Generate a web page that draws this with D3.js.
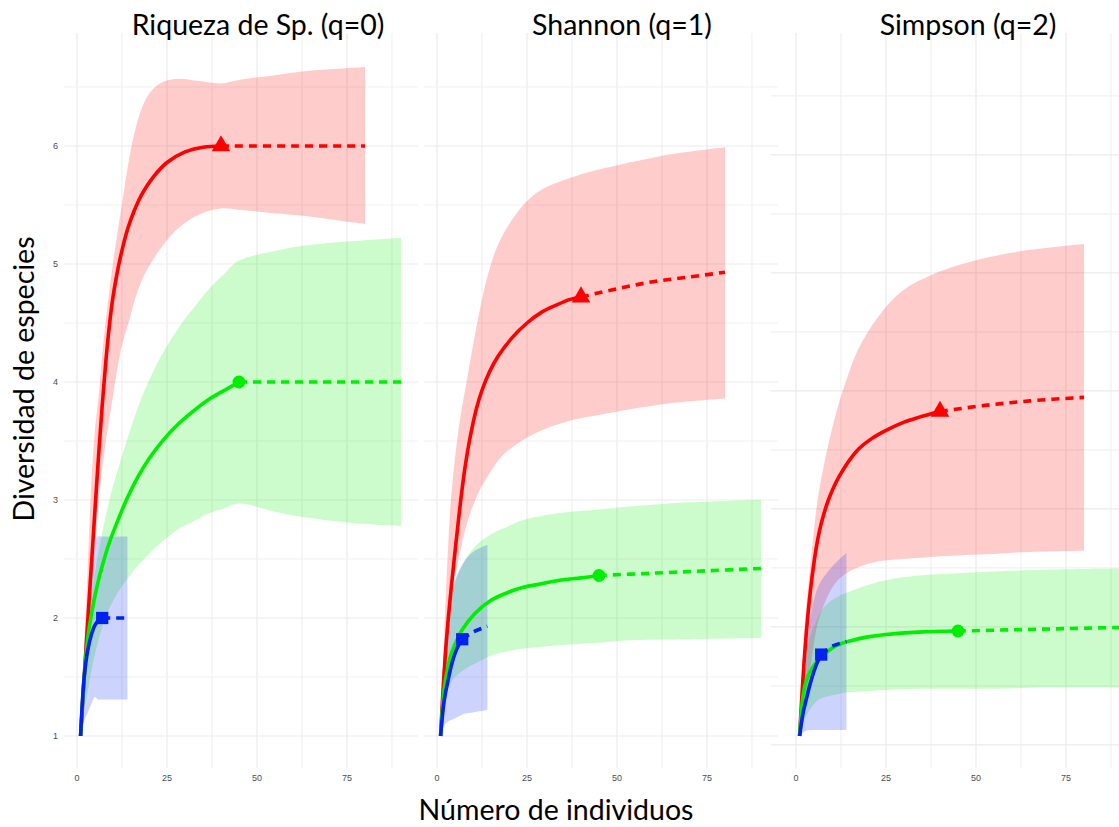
<!DOCTYPE html>
<html>
<head>
<meta charset="utf-8">
<script src="https://cdn.jsdelivr.net/npm/d3@7"></script>
<style>
  body { margin: 0; background: #fff; }
  svg { display: block; }
</style>
</head>
<body>
<div id="chart"></div>
<script>

// panel titles and ticks
const panelTitles = ['Riqueza de Sp. (q=0)', 'Shannon (q=1)', 'Simpson (q=2)'];
const xTicks = [0, 25, 50, 75];
const yTicks = [1, 2, 3, 4, 5, 6];
const gridX = [0, 12.5, 25, 37.5, 50, 62.5, 75, 87.5];
const gridY = [1, 1.5, 2, 2.5, 3, 3.5, 4, 4.5, 5, 5.5, 6, 6.5];
const gridYSimpson = [0.924, 1.424, 1.924, 2.424, 2.924, 3.424, 3.924, 4.424, 4.924, 5.424, 5.924, 6.424];

// q=0  [n, estimate] / [n, lower, upper]
const q0RedEst = [[1,1],[2,1.5],[3,1.98],[4,2.45],[5,2.92],[6,3.38],[7,3.8],[8,4.17],[9,4.48],[10,4.72],[11,4.9],[12,5.05],[14,5.29],[16,5.46],[18,5.59],[21,5.73],[25,5.86],[30,5.95],[35,5.99],[40,6.0]];
const q0RedExt = [[40,6],[60,6],[80,6]];
const q0RedBand = [[1,1,1],[2,1.4,1.75],[3,1.8,2.45],[4,2.2,3.15],[5,2.6,3.6],[5.9,2.95,3.85],[7.8,3.45,4.47],[10.1,3.9,5.03],[12.4,4.3,5.49],[14.3,4.5,5.86],[16.1,4.7,6.13],[18,4.86,6.32],[20,4.98,6.44],[23,5.12,6.53],[28,5.3,6.57],[34,5.42,6.55],[40,5.47,6.53],[45,5.46,6.56],[55,5.43,6.6],[62,5.41,6.63],[70,5.38,6.65],[80,5.34,6.67]];
const q0GreenEst = [[1,1],[2,1.5],[3,1.83],[4,2.03],[5.5,2.26],[7,2.44],[9,2.64],[11,2.8],[14,3.02],[17,3.2],[20,3.35],[24,3.51],[28,3.64],[33,3.77],[37,3.86],[41,3.93],[45,4.0]];
const q0GreenExt = [[45,4],[90,4]];
const q0GreenBand = [[1,1,1],[2,1.22,1.6],[3,1.38,1.95],[4,1.55,2.2],[5.5,1.76,2.48],[7,1.92,2.72],[9,2.08,3.0],[11,2.2,3.22],[14,2.33,3.52],[18,2.48,3.87],[23,2.63,4.2],[28,2.75,4.45],[33,2.83,4.65],[37,2.89,4.8],[41,2.93,4.92],[45,2.97,5.03],[55,2.9,5.11],[62,2.86,5.15],[75,2.81,5.19],[90,2.78,5.22]];
const q0BlueEst = [[1,1],[2,1.5],[3,1.73],[4,1.86],[5,1.94],[6,1.98],[7,2.0]];
const q0BlueExt = [[7,2],[14,2]];
const q0BlueBand = [[1,1,1],[2,1.13,1.75],[3,1.2,2.1],[4,1.27,2.4],[5,1.33,2.6],[5.8,1.31,2.69],[7,1.31,2.69],[10,1.31,2.69],[14,1.31,2.69]];

// q=1
const q1RedEst = [[1,1],[2,1.55],[3,1.95],[4,2.27],[5,2.56],[6,2.84],[7,3.1],[8,3.32],[9,3.5],[10,3.65],[11,3.78],[12.5,3.93],[14.5,4.08],[17,4.22],[21,4.38],[25,4.5],[29,4.59],[33,4.65],[37,4.7],[40,4.72]];
const q1RedExt = [[40,4.72],[50,4.79],[60,4.85],[70,4.89],[80,4.93]];
const q1RedBand = [[1,1,1],[2,1.5,1.85],[3,1.9,2.55],[4,2.2,3.05],[6,2.5,3.6],[8.5,2.82,4.05],[11.5,3.06,4.55],[14.5,3.22,4.95],[18,3.37,5.23],[24,3.51,5.5],[29,3.59,5.63],[38,3.68,5.74],[45,3.72,5.8],[52,3.76,5.85],[65,3.82,5.93],[80,3.86,5.99]];
const q1GreenEst = [[1,1],[2,1.4],[3,1.58],[4,1.7],[5.5,1.81],[7,1.9],[10.6,2.04],[15,2.15],[20,2.22],[24,2.26],[29,2.29],[34,2.32],[40,2.34],[45,2.36]];
const q1GreenExt = [[45,2.36],[60,2.38],[75,2.4],[90,2.42]];
const q1GreenBand = [[1,1,1],[2,1.25,1.7],[3,1.4,2.0],[5,1.5,2.3],[8,1.57,2.5],[11,1.62,2.62],[15,1.68,2.71],[20,1.72,2.78],[24,1.74,2.83],[34,1.77,2.89],[45,1.79,2.92],[52,1.81,2.94],[70,1.82,2.98],[90,1.83,3.0]];
const q1BlueEst = [[1,1],[2,1.3],[3,1.46],[4,1.6],[5,1.7],[6,1.77],[7,1.82]];
const q1BlueExt = [[7,1.82],[10,1.88],[14,1.93]];
const q1BlueBand = [[1,1,1],[2,1.09,1.75],[3,1.12,2.02],[5,1.15,2.32],[7.8,1.19,2.49],[10,1.2,2.56],[14,1.22,2.62]];

// q=2
const q2RedEst = [[1,1],[2,1.52],[3,1.92],[4,2.23],[5,2.47],[6,2.66],[7,2.8],[9,3.0],[12,3.2],[17,3.42],[21,3.52],[25,3.59],[30,3.66],[34,3.7],[40,3.75]];
const q2RedExt = [[40,3.75],[52,3.8],[65,3.84],[80,3.87]];
const q2RedBand = [[1,1,1],[2,1.15,1.7],[2.5,1.25,1.98],[3.5,1.45,2.3],[4.8,1.75,2.69],[6,1.95,3.0],[8,2.13,3.33],[10.8,2.29,3.7],[13.6,2.37,3.98],[17.3,2.43,4.28],[23,2.48,4.56],[29.4,2.5,4.77],[38.6,2.52,4.92],[52.5,2.54,5.05],[65,2.56,5.12],[80,2.57,5.17]];
const q2GreenEst = [[1,1],[2,1.35],[3,1.48],[5,1.6],[7.1,1.67],[10.8,1.76],[15.5,1.81],[20,1.84],[25,1.86],[34,1.88],[45,1.89]];
const q2GreenExt = [[45,1.89],[60,1.9],[75,1.91],[90,1.92]];
const q2GreenBand = [[1,1,1],[2,1.1,1.55],[3,1.18,1.75],[6,1.3,2.0],[8,1.33,2.1],[11,1.35,2.17],[14.5,1.37,2.22],[20,1.38,2.28],[25,1.39,2.32],[34,1.4,2.36],[45,1.4,2.38],[52,1.4,2.39],[70,1.41,2.41],[90,1.41,2.42]];
const q2BlueEst = [[1,1],[2,1.2],[3,1.33],[4,1.45],[5,1.55],[6,1.63],[7,1.69]];
const q2BlueExt = [[7,1.69],[10,1.76],[14,1.8]];
const q2BlueBand = [[1,1,1],[2,1.03,1.4],[2.5,1.04,1.56],[3.9,1.05,1.98],[6.2,1.05,2.27],[9.9,1.05,2.43],[14,1.05,2.55]];

const colours = ['#ff0000', '#00ee00', '#0022ee'];
const shapes = [d3.symbolTriangle, d3.symbolCircle, d3.symbolSquare];
const shapeSizes = [150, 130, 150];

const panels = [
    { title: panelTitles[0], gridY: gridY, showY: true,
      est: [q0RedEst, q0GreenEst, q0BlueEst], ext: [q0RedExt, q0GreenExt, q0BlueExt], band: [q0RedBand, q0GreenBand, q0BlueBand] },
    { title: panelTitles[1], gridY: gridY, showY: false,
      est: [q1RedEst, q1GreenEst, q1BlueEst], ext: [q1RedExt, q1GreenExt, q1BlueExt], band: [q1RedBand, q1GreenBand, q1BlueBand] },
    { title: panelTitles[2], gridY: gridYSimpson, showY: false,
      est: [q2RedEst, q2GreenEst, q2BlueEst], ext: [q2RedExt, q2GreenExt, q2BlueExt], band: [q2RedBand, q2GreenBand, q2BlueBand] }
];

// pixel layout of the three pasted plots
const W = 1119, H = 827;
const zeroX = [77, 437, 796];       // where n = 0 sits in each panel
const gridLeft = [64, 424, 771];
const gridRight = [418, 778, 1125];
const gridTop = 33, gridBottom = 768;
const titleX = [258, 622, 968];

const svg = d3.select('#chart')
    .append('svg')
    .attr('width', W)
    .attr('height', H)
    .style('font-family', 'Lato, sans-serif');

const y = d3.scaleLinear().domain([1, 6]).range([736, 146]);
const smooth = d3.curveCatmullRom.alpha(0.5);

panels.forEach((p, i) => {
    const x = d3.scaleLinear().domain([0, 100]).range([zeroX[i], zeroX[i] + 360]);
    const g = svg.append('g');

    // grid
    g.selectAll('.gx')
        .data(gridX)
        .enter()
        .append('line')
        .attr('x1', d => x(d)).attr('x2', d => x(d))
        .attr('y1', gridTop).attr('y2', gridBottom)
        .style('stroke', d => d % 25 === 0 ? '#ebebeb' : '#f1f1f1')
        .style('stroke-width', 1.2);
    g.selectAll('.gy')
        .data(p.gridY)
        .enter()
        .append('line')
        .attr('x1', gridLeft[i]).attr('x2', gridRight[i])
        .attr('y1', d => y(d)).attr('y2', d => y(d))
        .style('stroke', (d, k) => k % 2 === 0 ? '#ebebeb' : '#f1f1f1')
        .style('stroke-width', 1.2);

    // x tick labels
    g.selectAll('.xt')
        .data(xTicks)
        .enter()
        .append('text')
        .attr('x', d => x(d))
        .attr('y', 781)
        .attr('text-anchor', 'middle')
        .style('font-family', '"Liberation Sans", Arial, sans-serif')
        .style('font-size', '9px')
        .style('fill', '#4d4d4d')
        .text(d => d);

    if (p.showY) {
        g.selectAll('.yt')
            .data(yTicks)
            .enter()
            .append('text')
            .attr('x', 58)
            .attr('y', d => y(d))
            .attr('dy', '0.34em')
            .attr('text-anchor', 'end')
            .style('font-family', '"Liberation Sans", Arial, sans-serif')
            .style('font-size', '9px')
            .style('fill', '#4d4d4d')
            .text(d => d);
    }

    // ribbons
    const area = d3.area()
        .x(d => x(d[0]))
        .y0(d => y(d[1]))
        .y1(d => y(d[2]))
        .curve(smooth);
    p.band.forEach((b, k) => {
        g.append('path')
            .attr('d', area(b))
            .style('fill', colours[k])
            .style('fill-opacity', 0.2);
    });

    // lines: solid rarefaction, dashed extrapolation
    const line = d3.line()
        .x(d => x(d[0]))
        .y(d => y(d[1]))
        .curve(smooth);
    p.est.forEach((e, k) => {
        g.append('path')
            .attr('d', line(e))
            .style('fill', 'none')
            .style('stroke', colours[k])
            .style('stroke-width', 3.6);
        g.append('path')
            .attr('d', line(p.ext[k]))
            .style('fill', 'none')
            .style('stroke', colours[k])
            .style('stroke-width', 3.6)
            .style('stroke-dasharray', '8, 6');
    });

    // observed points
    p.est.forEach((e, k) => {
        const last = e[e.length - 1];
        g.append('path')
            .attr('d', d3.symbol().type(shapes[k]).size(shapeSizes[k])())
            .attr('transform', `translate(${x(last[0])}, ${y(last[1])})`)
            .style('fill', colours[k]);
    });

    // panel title
    svg.append('text')
        .attr('x', titleX[i])
        .attr('y', 35)
        .attr('text-anchor', 'middle')
        .style('font-size', '28.5px')
        .style('fill', '#000')
        .text(p.title);
});

// axis titles
svg.append('text')
    .attr('x', 556)
    .attr('y', 820)
    .attr('text-anchor', 'middle')
    .style('font-size', '28.5px')
    .style('fill', '#000')
    .text('Número de individuos');

svg.append('text')
    .attr('transform', 'translate(34, 379) rotate(-90)')
    .attr('text-anchor', 'middle')
    .style('font-size', '28.5px')
    .style('fill', '#000')
    .text('Diversidad de especies');

</script>
</body>
</html>
